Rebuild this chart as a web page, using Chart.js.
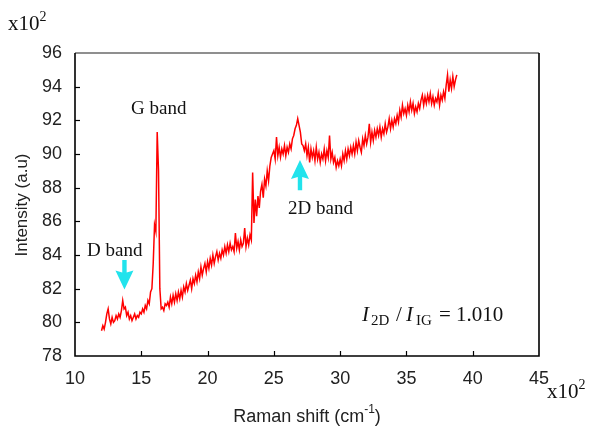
<!DOCTYPE html>
<html>
<head>
<meta charset="utf-8">
<script src="https://cdn.jsdelivr.net/npm/chart.js@4.4.1/dist/chart.umd.min.js"></script>
<style>
html,body{margin:0;padding:0;background:#fff;}
#wrap{width:597px;height:428px;}
</style>
</head>
<body>
<div id="wrap"><canvas id="c" width="597" height="428"></canvas></div>
<script>
// Raman shift grid (x10^2 cm^-1): first sample and spacing
const shiftStart = 12.0;
const shiftStep = 0.1;
// Intensity (x10^2 a.u.), one value per 0.1 step
const intensity = [
  79.5, 79.8, 79.6, 80.0, 80.5, 80.8, 80.2, 79.9, 80.3, 80.0,
  80.1, 80.4, 80.2, 80.5, 80.3, 80.7, 81.3, 80.8, 80.9, 80.4,
  80.6, 80.2, 80.4, 80.1, 80.3, 80.5, 80.2, 80.4, 80.3, 80.6,
  80.5, 80.8, 80.6, 81.0, 80.8, 81.3, 81.1, 81.8, 82.0, 83.5,
  85.8, 85.4, 91.3, 89.0, 82.0, 80.8, 80.9, 80.7, 81.1, 81.0,
  81.2, 80.9, 81.5, 81.1, 81.6, 81.2, 81.7, 81.3, 81.8, 81.4,
  81.9, 81.5, 82.1, 81.8, 82.3, 81.9, 82.2, 82.5, 82.0, 82.6,
  82.3, 82.8, 82.4, 83.0, 82.6, 83.3, 82.8, 83.2, 83.5, 83.0,
  83.6, 83.2, 83.8, 83.4, 84.0, 83.5, 83.9, 84.2, 83.7, 84.1,
  83.8, 84.3, 84.0, 84.5, 84.1, 84.6, 84.2, 84.7, 84.3, 84.5,
  84.2, 85.3, 84.4, 84.8, 84.3, 84.9, 84.5, 84.7, 85.6, 84.5,
  85.0, 84.6, 85.2, 84.9, 88.9, 85.9, 87.3, 86.3, 87.5, 86.8,
  87.8, 88.2, 87.4, 88.5, 88.1, 89.0, 88.4, 89.3, 89.8, 90.0,
  90.2, 89.7, 91.0, 89.9, 90.4, 89.8, 90.3, 90.0, 90.5, 89.9,
  90.4, 90.1, 90.6, 90.3, 90.9, 91.1, 91.5, 91.7, 92.1, 91.7,
  91.3, 90.6, 90.5, 90.2, 90.6, 89.9, 90.4, 89.5, 90.3, 89.8,
  90.2, 89.6, 90.4, 89.7, 90.1, 89.5, 90.0, 89.7, 90.3, 89.6,
  90.2, 89.8, 91.1, 89.7, 90.1, 89.5, 89.8, 89.2, 89.6, 89.3,
  89.7, 89.3, 90.0, 89.6, 90.2, 89.7, 90.3, 89.9, 90.4, 90.0,
  90.5, 90.0, 90.7, 90.2, 90.8, 90.4, 90.1, 90.9, 90.5, 91.1,
  90.6, 91.0, 91.8, 90.7, 91.3, 90.8, 91.4, 91.0, 91.5, 91.1,
  91.6, 91.0, 91.5, 91.2, 91.8, 91.3, 91.6, 92.1, 91.5, 92.0,
  91.6, 92.1, 91.8, 92.3, 91.9, 92.6, 92.2, 92.9, 92.4, 92.7,
  92.3, 92.9, 92.5, 93.1, 92.6, 93.0, 92.4, 92.8, 92.5, 93.0,
  92.7, 93.2, 93.5, 92.9, 93.4, 93.0, 93.5, 93.1, 93.6, 93.0,
  93.4, 92.9, 93.3, 93.1, 93.6, 92.9, 93.5, 93.2, 93.7, 93.3,
  94.1, 94.7, 93.7, 94.4, 93.9, 94.6, 94.0, 94.4, 94.7
];
// Axis ticks
const xTicks = [10, 15, 20, 25, 30, 35, 40, 45];
const yTicks = [78, 80, 82, 84, 86, 88, 90, 92, 94, 96];
// Annotation labels
const bandLabels = ["D band", "G band", "2D band"];
const xTitle = "Raman shift (cm";
const yTitle = "Intensity (a.u)";
const ratioValue = "1.010";

const points = intensity.map((v, i) => ({ x: +(shiftStart + i * shiftStep).toFixed(2), y: v }));

const SANS = '"Liberation Sans", Arial, sans-serif';
const SERIF = '"Liberation Serif", "Times New Roman", serif';

function arrow(ctx, x, yBase, yTip, cyan) {
  const dir = yTip > yBase ? 1 : -1;
  const headLen = 17, headHalf = 9, shaftHalf = 2.2;
  const yHead = yTip - dir * headLen;
  ctx.save();
  ctx.fillStyle = cyan;
  ctx.beginPath();
  ctx.moveTo(x - shaftHalf, yBase);
  ctx.lineTo(x + shaftHalf, yBase);
  ctx.lineTo(x + shaftHalf, yHead);
  ctx.lineTo(x + headHalf, yHead - dir * 2);
  ctx.lineTo(x, yTip);
  ctx.lineTo(x - headHalf, yHead - dir * 2);
  ctx.lineTo(x - shaftHalf, yHead);
  ctx.closePath();
  ctx.fill();
  ctx.restore();
}

const decor = {
  id: 'decor',
  afterDraw(chart) {
    const ctx = chart.ctx;
    const a = chart.chartArea;
    const xs = chart.scales.x, ys = chart.scales.y;
    ctx.save();
    // inner ticks
    ctx.strokeStyle = '#000';
    ctx.lineWidth = 1.2;
    xTicks.forEach(t => {
      if (t === 10 || t === 45) return;
      const px = Math.round(xs.getPixelForValue(t)) + 0.5;
      ctx.beginPath(); ctx.moveTo(px, a.bottom); ctx.lineTo(px, a.bottom - 5); ctx.stroke();
    });
    yTicks.forEach(t => {
      if (t === 78 || t === 96) return;
      const py = Math.round(ys.getPixelForValue(t)) + 0.5;
      ctx.beginPath(); ctx.moveTo(a.left, py); ctx.lineTo(a.left + 5, py); ctx.stroke();
    });
    // frame
    ctx.lineWidth = 1.6;
    ctx.strokeStyle = '#6a6a6a';
    ctx.beginPath(); ctx.moveTo(a.left, a.top); ctx.lineTo(a.right, a.top); ctx.stroke();
    ctx.strokeStyle = '#000';
    ctx.beginPath();
    ctx.moveTo(a.right, a.top); ctx.lineTo(a.right, a.bottom);
    ctx.lineTo(a.left, a.bottom); ctx.lineTo(a.left, a.top);
    ctx.stroke();

    // multipliers
    ctx.fillStyle = '#111';
    ctx.textBaseline = 'alphabetic';
    ctx.textAlign = 'left';
    ctx.font = '21px ' + SERIF;
    ctx.fillText('x10', 8, 30);
    let w = ctx.measureText('x10').width;
    ctx.font = '14px ' + SERIF;
    ctx.fillText('2', 8 + w, 21);
    ctx.font = '21px ' + SERIF;
    ctx.fillText('x10', 547, 398);
    w = ctx.measureText('x10').width;
    ctx.font = '14px ' + SERIF;
    ctx.fillText('2', 547 + w, 389);

    // axis titles
    ctx.fillStyle = '#222';
    ctx.font = '18px ' + SANS;
    const t1 = ctx.measureText(xTitle).width;
    ctx.font = '12px ' + SANS;
    const t2 = ctx.measureText('-1').width;
    ctx.font = '18px ' + SANS;
    const t3 = ctx.measureText(')').width;
    let x0 = (a.left + a.right) / 2 - (t1 + t2 + t3) / 2;
    ctx.fillText(xTitle, x0, 422);
    ctx.font = '12px ' + SANS;
    ctx.fillText('-1', x0 + t1, 413);
    ctx.font = '18px ' + SANS;
    ctx.fillText(')', x0 + t1 + t2, 422);

    ctx.save();
    ctx.translate(27, 205);
    ctx.rotate(-Math.PI / 2);
    ctx.textAlign = 'center';
    ctx.font = '17px ' + SANS;
    ctx.fillText(yTitle, 0, 0);
    ctx.restore();

    // band labels
    ctx.fillStyle = '#111';
    ctx.font = '19px ' + SERIF;
    ctx.fillText(bandLabels[0], 87, 256);
    ctx.fillText(bandLabels[1], 131, 114);
    ctx.fillText(bandLabels[2], 288, 214);

    // arrows (positioned in data coordinates)
    const cyan = '#22e3ec';
    arrow(ctx, xs.getPixelForValue(13.73), ys.getPixelForValue(83.7), ys.getPixelForValue(81.95), cyan);
    arrow(ctx, xs.getPixelForValue(26.97), ys.getPixelForValue(87.85), ys.getPixelForValue(89.65), cyan);

    // ratio text
    const base = 321;
    ctx.fillStyle = '#111';
    ctx.font = 'italic 21px ' + SERIF;
    ctx.fillText('I', 362, base);
    ctx.font = '15px ' + SERIF;
    ctx.fillText('2D', 371, base + 4);
    ctx.font = '21px ' + SERIF;
    ctx.fillText('/', 396, base);
    ctx.font = 'italic 21px ' + SERIF;
    ctx.fillText('I', 406, base);
    ctx.font = '15px ' + SERIF;
    ctx.fillText('IG', 416, base + 4);
    ctx.font = '21px ' + SERIF;
    ctx.fillText('=', 439, base);
    ctx.fillText(ratioValue, 456, base);
    ctx.restore();
  }
};

new Chart(document.getElementById('c'), {
  type: 'line',
  data: {
    datasets: [{
      data: points,
      borderColor: '#ff0000',
      borderWidth: 1.5,
      pointRadius: 0,
      tension: 0,
      fill: false
    }]
  },
  options: {
    responsive: false,
    animation: false,
    devicePixelRatio: 1,
    layout: { padding: { top: 53, right: 58, left: 0, bottom: 0 } },
    plugins: { legend: { display: false }, tooltip: { enabled: false } },
    scales: {
      x: {
        type: 'linear', min: 10, max: 45,
        afterBuildTicks: s => { s.ticks = xTicks.map(v => ({ value: v })); },
        afterFit: s => { s.height = 72; },
        grid: { display: false, drawTicks: false },
        border: { display: false },
        ticks: { padding: 12, color: '#222', font: { family: SANS, size: 18 }, maxRotation: 0, autoSkip: false }
      },
      y: {
        type: 'linear', min: 78, max: 96,
        afterBuildTicks: s => { s.ticks = yTicks.map(v => ({ value: v })); },
        afterFit: s => { s.width = 75; },
        grid: { display: false, drawTicks: false },
        border: { display: false },
        ticks: { padding: 13, color: '#222', font: { family: SANS, size: 18 }, autoSkip: false }
      }
    }
  },
  plugins: [decor]
});
</script>
</body>
</html>
